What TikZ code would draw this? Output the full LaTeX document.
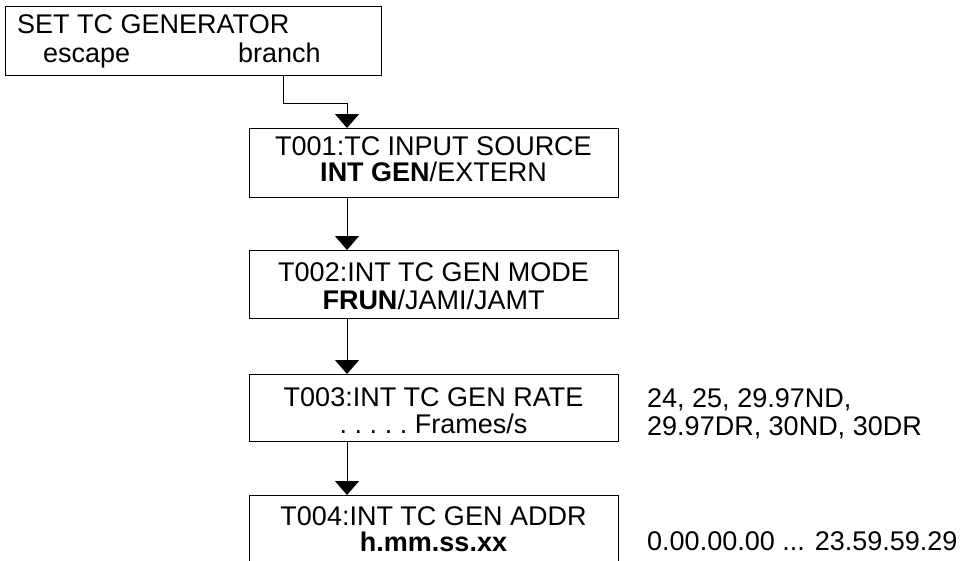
\documentclass[tikz,border=0pt]{standalone}
\usepackage{fontspec}
\setmainfont{Liberation Sans}
\usetikzlibrary{arrows.meta}
\begin{document}
\begin{tikzpicture}[x=1pt,y=-1pt,
  box/.style={draw, line width=1.3pt, inner sep=0pt, anchor=north west, minimum width=369pt, minimum height=68pt},
  lbl/.style={inner sep=0pt, anchor=base, font=\fontsize{27}{27}\selectfont},
  lbll/.style={lbl, anchor=base west},
  conn/.style={line width=1pt, -{Triangle[width=24pt,length=14pt]}},
]
\useasboundingbox (0,0) rectangle (963,560);
\begin{scope}
\clip (0,0) rectangle (963,560);
\node[box, minimum width=376pt, minimum height=69pt] (gen) at (5,6) {};
\node[box, minimum height=69pt] (t1) at (249,128) {};
\node[box] (t2) at (249,250) {};
\node[box, minimum height=67pt] (t3) at (249,374) {};
\node[box, minimum height=70pt] (t4) at (249,495) {};

\node[lbll] (genA) at (17,33) {SET TC GENERATOR};
\node[lbll] (genB) at (43,62) {escape};
\node[lbll] (genC) at (238,62) {branch};
\node[lbl] (t1A) at (433.5,155) {T001:TC INPUT SOURCE};
\node[lbl] (t1B) at (433.5,181) {\textbf{INT GEN}/EXTERN};
\node[lbl] (t2A) at (433.5,281) {T002:INT TC GEN MODE};
\node[lbl] (t2B) at (433.5,309) {\textbf{FRUN}/JAMI/JAMT};
\node[lbl] (t3A) at (433.5,406) {T003:INT TC GEN RATE};
\node[lbl] (t3B) at (433.5,433) {.\ .\ .\ .\ .\ Frames/s};
\node[lbl] (t4A) at (433.5,525) {T004:INT TC GEN ADDR};
\node[lbl] (t4B) at (433.5,551) {\textbf{h.mm.ss.xx}};
\node[lbll] (r1) at (647,407) {24, 25, 29.97ND,};
\node[lbll] (r2) at (647,435) {29.97DR, 30ND, 30DR};
\node[lbll] (r3) at (647,550) {0.00.00.00 ... 23.59.59.29};

\coordinate (ax) at (347,0);
\coordinate (bx) at (283,0);
\draw[conn] (gen.south -| bx) -- ++(0,27) -| (t1.north -| ax);
\draw[conn] (t1.south -| ax) -- (t2.north -| ax);
\draw[conn] (t2.south -| ax) -- (t3.north -| ax);
\draw[conn] (t3.south -| ax) -- (t4.north -| ax);
\end{scope}
\end{tikzpicture}
\end{document}
